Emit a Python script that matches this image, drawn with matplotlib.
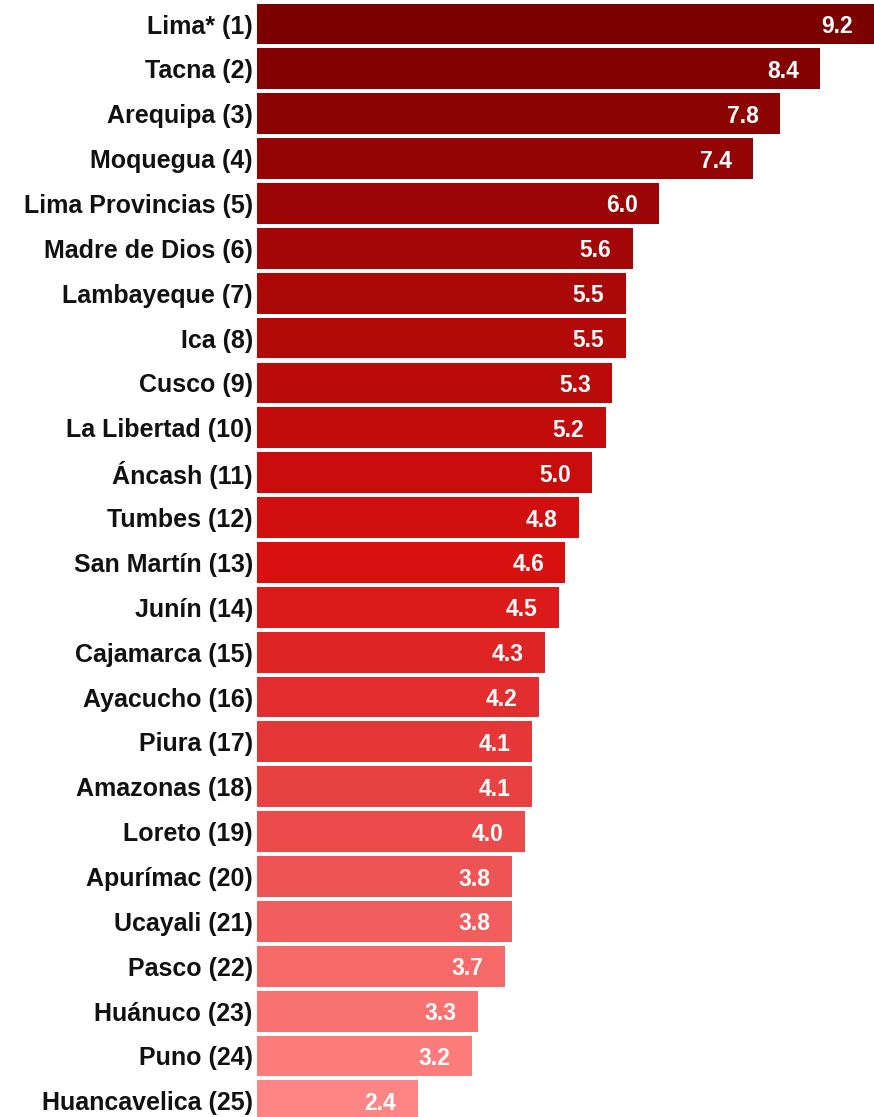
import matplotlib
matplotlib.use('Agg')
import matplotlib.pyplot as plt
from matplotlib.colors import LinearSegmentedColormap

regions = ['Lima* (1)', 'Tacna (2)', 'Arequipa (3)', 'Moquegua (4)', 'Lima Provincias (5)',
           'Madre de Dios (6)', 'Lambayeque (7)', 'Ica (8)', 'Cusco (9)', 'La Libertad (10)',
           'Áncash (11)', 'Tumbes (12)', 'San Martín (13)', 'Junín (14)', 'Cajamarca (15)',
           'Ayacucho (16)', 'Piura (17)', 'Amazonas (18)', 'Loreto (19)', 'Apurímac (20)',
           'Ucayali (21)', 'Pasco (22)', 'Huánuco (23)', 'Puno (24)', 'Huancavelica (25)']
values = [9.2, 8.4, 7.8, 7.4, 6.0, 5.6, 5.5, 5.5, 5.3, 5.2, 5.0, 4.8, 4.6, 4.5, 4.3,
          4.2, 4.1, 4.1, 4.0, 3.8, 3.8, 3.7, 3.3, 3.2, 2.4]

plt.rcParams['font.family'] = ['Liberation Sans', 'DejaVu Sans']

cmap = LinearSegmentedColormap.from_list('reds', ['#7d0000', '#d81010', '#ff8585'])
n = len(values)
colors = [cmap(i / (n - 1)) for i in range(n)]

fig = plt.figure(figsize=(8.74, 11.17), dpi=100)
ax = fig.add_axes([0.294, 0.0, 0.706, 1.0])

ypos = list(range(n))
ax.barh(ypos, values, height=0.91, color=colors)

for y, v in zip(ypos, values):
    ax.text(v - 0.32, y, f'{v:.1f}', ha='right', va='center_baseline', color='white',
            fontsize=16.5, fontweight='bold')

ax.set_yticks(ypos)
ax.set_yticklabels(regions, fontsize=18, fontweight='bold', color='#111111',
                   va='center_baseline')
ax.tick_params(axis='y', length=0, pad=3)
ax.set_xticks([])
ax.set_xlim(0, 9.2)
ax.set_ylim(24.36, -0.535)
for s in ax.spines.values():
    s.set_visible(False)

fig.savefig('out.png', dpi=100)
